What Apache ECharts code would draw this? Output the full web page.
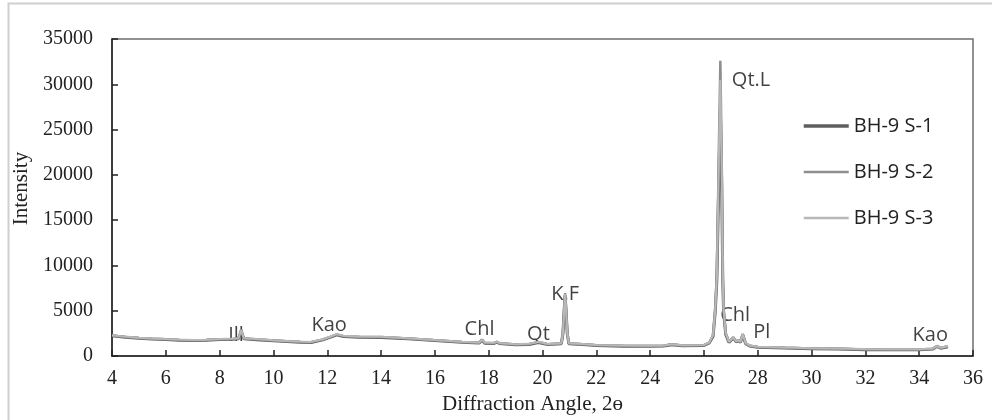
<!DOCTYPE html>
<html>
<head>
<meta charset="utf-8">
<script src="https://cdn.jsdelivr.net/npm/echarts@6/dist/echarts.min.js"></script>
<style>
  html, body { margin: 0; padding: 0; background: #ffffff; }
  #chart { width: 992px; height: 420px; }
</style>
</head>
<body>
<div id="chart"></div>
<script>
// XRD pattern: diffraction angle (2θ) against intensity for three samples
const angles = [
  4.0, 4.5, 5.0, 5.5, 6.0, 6.5, 7.0, 7.5, 8.0, 8.5,
  8.7, 8.8, 8.9, 9.5, 10.0, 10.5, 11.0, 11.4, 11.8, 12.1,
  12.35, 12.6, 13.2, 14.0, 15.0, 16.0, 17.0, 17.65, 17.75, 17.85,
  18.2, 18.3, 18.4, 19.0, 19.5, 19.85, 20.2, 20.7, 20.76, 20.81,
  20.84, 20.87, 20.92, 20.98, 21.5, 22.0, 23.0, 24.0, 24.5, 24.8,
  25.2, 26.0, 26.2, 26.34, 26.42, 26.48, 26.55, 26.61, 26.66, 26.7,
  26.73, 26.81, 26.93, 27.09, 27.2, 27.28, 27.36, 27.44, 27.55, 27.7,
  28.0, 29.0, 30.0, 31.0, 32.0, 33.0, 34.0, 34.5, 34.66, 34.8,
  35.07
];

const sample1 = [
  2240, 2090, 1970, 1890, 1820, 1760, 1730, 1750, 1820, 1870,
  1920, 2700, 1920, 1790, 1690, 1610, 1540, 1510, 1760, 2060,
  2340, 2160, 2080, 2060, 1910, 1710, 1530, 1440, 1760, 1430,
  1400, 1540, 1390, 1250, 1290, 1510, 1270, 1370, 2500, 5300,
  6700, 5300, 2500, 1370, 1270, 1170, 1100, 1080, 1120, 1260,
  1150, 1170, 1460, 2200, 4900, 8400, 19000, 27300, 19000, 8400,
  4900, 2400, 1520, 2000, 1560, 1700, 1510, 2350, 1370, 1120,
  980, 890, 820, 790, 710, 700, 700, 770, 1060, 870,
  1040
];

const sample2 = [
  2280, 2120, 2000, 1920, 1850, 1790, 1760, 1780, 1850, 1900,
  1950, 2950, 1950, 1820, 1720, 1640, 1570, 1540, 1800, 2100,
  2400, 2200, 2120, 2100, 1950, 1750, 1560, 1470, 1820, 1460,
  1430, 1580, 1420, 1280, 1320, 1550, 1300, 1400, 2600, 5500,
  6950, 5500, 2600, 1400, 1300, 1200, 1130, 1110, 1150, 1300,
  1180, 1200, 1500, 2300, 5200, 9000, 22000, 32600, 22000, 9000,
  5200, 2500, 1560, 2100, 1600, 1750, 1550, 2460, 1400, 1150,
  1010, 920, 850, 820, 740, 730, 730, 800, 1120, 900,
  1080
];

const sample3 = [
  2310, 2150, 2030, 1950, 1880, 1820, 1790, 1810, 1880, 1930,
  1980, 2850, 1980, 1850, 1750, 1670, 1600, 1570, 1830, 2140,
  2430, 2240, 2150, 2130, 1980, 1780, 1590, 1500, 1790, 1490,
  1460, 1600, 1450, 1310, 1350, 1580, 1330, 1430, 2550, 5400,
  6850, 5400, 2550, 1430, 1330, 1230, 1160, 1140, 1180, 1320,
  1210, 1230, 1530, 2350, 5100, 8800, 21000, 30500, 21000, 8800,
  5100, 2550, 1590, 2050, 1620, 1780, 1580, 2400, 1430, 1180,
  1040, 950, 880, 850, 770, 760, 760, 830, 1090, 930,
  1110
];

const seriesNames = ['BH-9 S-1', 'BH-9 S-2', 'BH-9 S-3'];
const seriesColors = ['#5e5e5e', '#8e8e8e', '#b8b8b8'];
const seriesWidths = [3, 2.5, 2];

// Mineral labels placed at (2θ, intensity)
const peakLabels = ['Ill', 'Kao', 'Chl', 'Qt', 'K.F', 'Qt.L', 'Chl', 'Pl', 'Kao'];
const peakLabelAngles = [8.61, 12.07, 17.66, 19.85, 20.84, 27.75, 27.16, 28.15, 34.41];
const peakLabelIntensities = [2830, 3910, 3480, 2930, 7390, 30980, 5110, 3150, 2830];

const xTicks = { min: 4, max: 36, step: 2 };
const yTicks = { min: 0, max: 35000, step: 5000 };

const pair = vals => angles.map((a, i) => [a, vals[i]]);

const serif = '"Liberation Serif", "Times New Roman", serif';
const sans = '"Open Sans", "Noto Sans", sans-serif';

const chart = echarts.init(document.getElementById('chart'), null, { renderer: 'canvas' });

const sampleData = [sample1, sample2, sample3];

chart.setOption({
  animation: false,
  backgroundColor: '#ffffff',
  graphic: [{
    type: 'rect',
    shape: { x: 8.5, y: 3.5, width: 1000, height: 440 },
    style: { fill: 'none', stroke: '#cfcfcf', lineWidth: 2 },
    silent: true
  }],
  grid: {
    left: 112, right: 19, top: 39, bottom: 59,
    show: true, borderColor: '#6e6e6e', borderWidth: 1.5, backgroundColor: 'transparent'
  },
  legend: {
    data: seriesNames.map((n, i) => ({
      name: n,
      lineStyle: { width: i === 0 ? 3.5 : 2.5, color: seriesColors[i] }
    })),
    orient: 'vertical',
    left: 802, top: 116, padding: 0,
    itemWidth: 45, itemHeight: 14, itemGap: 26,
    itemStyle: { opacity: 0, borderWidth: 0 },
    textStyle: { fontFamily: sans, fontSize: 20, color: '#222' }
  },
  xAxis: {
    type: 'value',
    min: xTicks.min, max: xTicks.max, interval: xTicks.step,
    name: 'Diffraction Angle, 2\u0275',
    nameLocation: 'middle', nameGap: 33,
    nameTextStyle: { fontFamily: serif, fontSize: 21, color: '#222', padding: [0, 20, 0, 0] },
    axisLine: { lineStyle: { color: '#222', width: 1.5 } },
    axisTick: { inside: true, length: 6, lineStyle: { color: '#222', width: 1.5 } },
    axisLabel: { fontFamily: serif, fontSize: 20, color: '#222', margin: 13 },
    splitLine: { show: false }
  },
  yAxis: {
    type: 'value',
    min: yTicks.min, max: yTicks.max, interval: yTicks.step,
    name: 'Intensity',
    nameLocation: 'middle', nameGap: 70,
    nameTextStyle: { fontFamily: serif, fontSize: 21, color: '#222', padding: [0, 0, 0, 18] },
    axisLine: { show: true, lineStyle: { color: '#222', width: 1.5 } },
    axisTick: { show: true, inside: true, length: 6, lineStyle: { color: '#222', width: 1.5 } },
    axisLabel: { fontFamily: serif, fontSize: 20, color: '#222', margin: 19, formatter: v => String(v) },
    splitLine: { show: false }
  },
  series: seriesNames.map((n, i) => ({
    name: n, type: 'line', data: pair(sampleData[i]),
    symbol: 'none',
    lineStyle: { color: seriesColors[i], width: seriesWidths[i] },
    itemStyle: { color: seriesColors[i] }
  })).concat([{
    name: 'labels', type: 'scatter', symbolSize: 0, silent: true,
    data: peakLabels.map((t, i) => ({ name: t, value: [peakLabelAngles[i], peakLabelIntensities[i]] })),
    label: {
      show: true, position: 'inside', offset: [0, 5], formatter: p => p.name,
      fontFamily: sans, fontSize: 20, color: '#111'
    }
  }])
});
</script>
</body>
</html>
